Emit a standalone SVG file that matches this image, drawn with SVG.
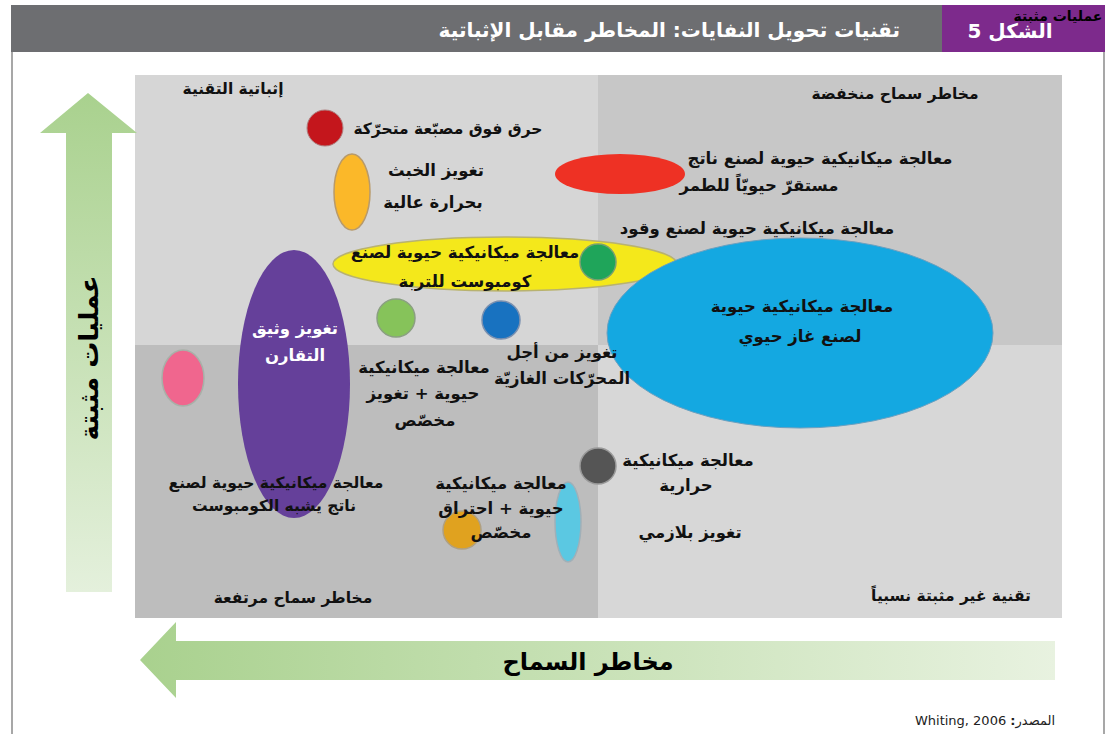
<svg xmlns="http://www.w3.org/2000/svg" width="1115" height="734" viewBox="0 0 1115 734">
<defs>
<linearGradient id="gv" x1="0" y1="0" x2="0" y2="1">
<stop offset="0" stop-color="#a9d18e"/>
<stop offset="1" stop-color="#e4f0dc"/>
</linearGradient>
<linearGradient id="gh" x1="0" y1="0" x2="1" y2="0">
<stop offset="0" stop-color="#a9d18e"/>
<stop offset="1" stop-color="#e8f2e0"/>
</linearGradient>
<style>
.ar{font-family:"DejaVu Sans",sans-serif;font-weight:bold;font-size:16.5px;fill:#111;direction:rtl;text-anchor:middle}
.w{fill:#fff}
.frame{stroke:#8a8a8a;stroke-width:1.5;fill:none}
</style>
</defs>
<rect width="1115" height="734" fill="#fff"/>
<g id="header">
<rect x="11" y="5" width="931" height="47" fill="#6d6e71"/>
<rect x="942" y="5" width="163" height="47" fill="#7d2a8c"/>
<text x="900" y="37" class="ar w" style="font-size:20px;text-anchor:start">تقنيات تحويل النفايات: المخاطر مقابل الإثباتية</text>
<text x="1010" y="38" class="ar w" style="font-size:20px">الشكل 5</text>
<text x="1058" y="21" class="ar" style="font-size:14px;fill:#000">عمليات مثبتة</text>
</g>
<g id="frame">
<line class="frame" x1="12" y1="52" x2="12" y2="734"/>
<line class="frame" x1="1104" y1="52" x2="1104" y2="734"/>
</g>
<g id="quadrants">
<rect x="135" y="75" width="463" height="270" fill="#d6d6d6"/>
<rect x="598" y="75" width="464" height="270" fill="#c7c7c7"/>
<rect x="135" y="345" width="463" height="273" fill="#bdbdbd"/>
<rect x="598" y="345" width="464" height="273" fill="#d7d7d7"/>
<text x="233" y="94" class="ar" style="font-size:15.5px">إثباتية التقنية</text>
<text x="895" y="99" class="ar" style="font-size:15.5px">مخاطر سماح  منخفضة</text>
<text x="293" y="603" class="ar" style="font-size:15.5px">مخاطر سماح مرتفعة</text>
<text x="951" y="601" class="ar" style="font-size:15.5px">تقنية غير مثبتة نسبياً</text>
</g>
<g id="axis-y">
<polygon points="88,93 137,133 112,133 112,592 66,592 66,133 40,133" fill="url(#gv)"/>
<text transform="translate(98,358) rotate(-90)" class="ar" style="font-size:26px;fill:#000">عمليات مثبتة</text>
</g>
<g id="axis-x">
<polygon points="140,660 176,622 176,641 1055,641 1055,680 176,680 176,698" fill="url(#gh)"/>
<text x="588" y="670" class="ar" style="font-size:24px;fill:#000">مخاطر السماح</text>
</g>
<g id="source">
<text x="1055" y="725" style="font-family:'DejaVu Sans',sans-serif;font-size:13px;fill:#222;direction:rtl;text-anchor:start">المصدر<tspan font-weight="bold">:</tspan> Whiting, 2006</text>
</g>
<g id="n-moving-grate">
<circle cx="325" cy="128" r="18" fill="#c4161c" stroke="#b08080" stroke-width="1"/>
<text x="448" y="134" class="ar" style="font-size:15.5px">حرق فوق مصبّعة متحرّكة</text>
</g>
<g id="n-slag">
<ellipse cx="352" cy="192" rx="18" ry="38" fill="#fbb829" stroke="#b89a6a" stroke-width="1.5"/>
<text x="436" y="176" class="ar">تغويز الخبث</text>
<text x="433" y="208" class="ar">بحرارة عالية</text>
</g>
<g id="n-stabilised">
<ellipse cx="620" cy="174" rx="65" ry="20" fill="#ee3124"/>
<text x="820" y="164" class="ar">معالجة ميكانيكية حيوية لصنع ناتج</text>
<text x="759" y="191" class="ar">مستقرّ حيويّاً للطمر</text>
</g>
<g id="n-compost">
<ellipse cx="505" cy="264" rx="172" ry="27" fill="#f4e81b" stroke="#b8b270" stroke-width="1.5"/>
<text x="465" y="258" class="ar">معالجة ميكانيكية حيوية لصنع</text>
<text x="465" y="287" class="ar">كومبوست للتربة</text>
</g>
<g id="n-fuel">
<circle cx="598" cy="262" r="18" fill="#1fa55a" stroke="#7aa070" stroke-width="1.5"/>
<text x="757" y="234" class="ar">معالجة ميكانيكية حيوية لصنع وقود</text>
</g>
<g id="n-biogas">
<ellipse cx="800" cy="333" rx="193" ry="95" fill="#14a8e1" stroke="#6aa0c0" stroke-width="1"/>
<text x="802" y="312" class="ar">معالجة ميكانيكية حيوية</text>
<text x="800" y="342" class="ar">لصنع غاز حيوي</text>
</g>
<g id="n-close-coupled">
<ellipse cx="294" cy="384" rx="56" ry="134" fill="#65409a"/>
<text x="295" y="334" class="ar w">تغويز وثيق</text>
<text x="295" y="361" class="ar w">التقارن</text>
</g>
<g id="n-pink">
<ellipse cx="183" cy="378" rx="21" ry="28" fill="#f0668e" stroke="#a8b0a8" stroke-width="1.5"/>
</g>
<g id="n-mbt-gasif">
<circle cx="396" cy="318" r="19" fill="#86c35a" stroke="#8aa080" stroke-width="1.5"/>
<text x="424" y="373" class="ar">معالجة ميكانيكية</text>
<text x="423" y="399" class="ar">حيوية + تغويز</text>
<text x="425" y="426" class="ar">مخصّص</text>
</g>
<g id="n-gas-engines">
<circle cx="501" cy="320" r="19" fill="#1872c0" stroke="#7a90b0" stroke-width="1.5"/>
<text x="562" y="358" class="ar">تغويز من أجل</text>
<text x="562" y="384" class="ar">المحرّكات الغازيّة</text>
</g>
<g id="n-compost-like">
<text x="276" y="488" class="ar" style="font-size:15.5px">معالجة ميكانيكية حيوية لصنع</text>
<text x="274" y="511" class="ar" style="font-size:15.5px">ناتج يشبه الكومبوست</text>
</g>
<g id="n-thermal">
<circle cx="598" cy="466" r="18" fill="#555555" stroke="#999" stroke-width="1.5"/>
<text x="688" y="466" class="ar">معالجة ميكانيكية</text>
<text x="686" y="491" class="ar">حرارية</text>
</g>
<g id="n-plasma">
<ellipse cx="568" cy="522" rx="13" ry="40" fill="#5bc8e2" stroke="#a0b0b8" stroke-width="1.5"/>
<text x="690" y="538" class="ar">تغويز بلازمي</text>
</g>
<g id="n-mbt-combust">
<circle cx="462" cy="530" r="19" fill="#e0a21f" stroke="#b0a080" stroke-width="1.5"/>
<text x="501" y="489" class="ar">معالجة ميكانيكية</text>
<text x="501" y="514" class="ar">حيوية + احتراق</text>
<text x="501" y="538" class="ar">مخصّص</text>
</g>
</svg>
